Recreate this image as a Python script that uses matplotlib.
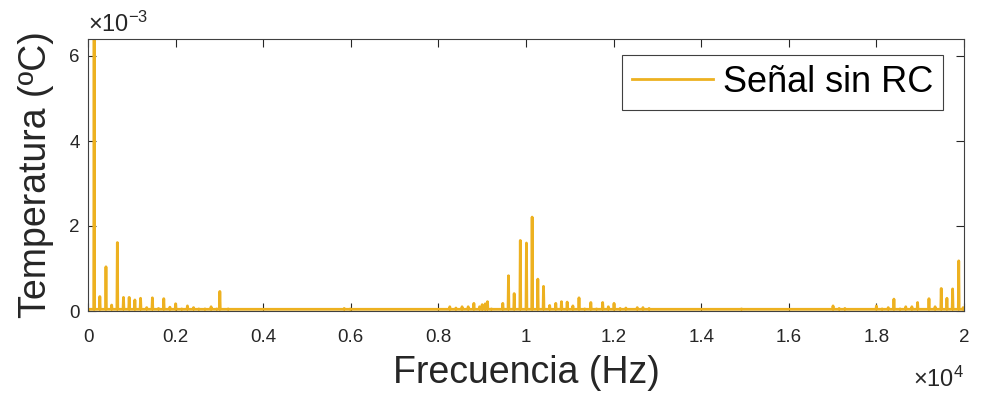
import numpy as np
import matplotlib
matplotlib.use('Agg')
import matplotlib.pyplot as plt

plt.rcParams['font.family'] = ['Liberation Sans', 'DejaVu Sans']
plt.rcParams['mathtext.fontset'] = 'custom'
plt.rcParams['mathtext.rm'] = 'Liberation Sans'
plt.rcParams['mathtext.it'] = 'Liberation Sans'

# spectrum peaks (Hz, degC)
peak_freqs = [138, 274, 411, 541, 671, 808, 936, 1073, 1203, 1340, 1470, 1607,
              1735, 1872, 2002, 2139, 2269, 2406, 2535, 2672, 2808, 2937, 3006, 3200,
              5850, 5990, 8260, 8398, 8540, 8678, 8807, 8936, 9004, 9072, 9118,
              9210, 9468, 9605, 9735, 9872, 10009, 10137, 10274, 10404, 10541,
              10678, 10808, 10937, 11074, 11212, 11345, 11478, 11612, 11750, 11879,
              12009, 12146, 12283, 12543, 12673, 12810, 14920, 16400, 17010, 17150,
              17280, 18000, 18130, 18267, 18404, 18540, 18670, 18807, 18937, 19070,
              19203, 19340, 19478, 19608, 19745, 19882, 19980]
peak_vals = [6.4e-3, 0.34e-3, 1.04e-3, 0.14e-3, 1.61e-3, 0.32e-3, 0.32e-3, 0.26e-3,
             0.30e-3, 0.08e-3, 0.31e-3, 0.06e-3, 0.29e-3, 0.09e-3, 0.17e-3, 0.05e-3,
             0.12e-3, 0.08e-3, 0.05e-3, 0.05e-3, 0.10e-3, 0.05e-3, 0.46e-3, 0.05e-3,
             0.06e-3, 0.05e-3, 0.10e-3, 0.07e-3, 0.10e-3, 0.10e-3, 0.18e-3, 0.10e-3,
             0.15e-3, 0.17e-3, 0.22e-3, 0.05e-3, 0.18e-3, 0.83e-3, 0.41e-3, 1.66e-3,
             1.60e-3, 2.21e-3, 0.75e-3, 0.58e-3, 0.13e-3, 0.18e-3, 0.22e-3, 0.21e-3,
             0.12e-3, 0.31e-3, 0.05e-3, 0.20e-3, 0.05e-3, 0.20e-3, 0.10e-3, 0.18e-3,
             0.06e-3, 0.07e-3, 0.08e-3, 0.08e-3, 0.06e-3, 0.05e-3, 0.04e-3, 0.12e-3,
             0.06e-3, 0.06e-3, 0.12e-3, 0.05e-3, 0.08e-3, 0.28e-3, 0.05e-3, 0.10e-3,
             0.10e-3, 0.20e-3, 0.04e-3, 0.29e-3, 0.10e-3, 0.53e-3, 0.30e-3, 0.52e-3,
             1.18e-3, 0.08e-3]
floor_val = 0.04e-3

x_ticks = [0, 2000, 4000, 6000, 8000, 10000, 12000, 14000, 16000, 18000, 20000]
x_ticklabels = ['0', '0.2', '0.4', '0.6', '0.8', '1', '1.2', '1.4', '1.6', '1.8', '2']
y_ticks = [0, 2e-3, 4e-3, 6e-3]
y_ticklabels = ['0', '2', '4', '6']

freq = np.arange(0, 20001, 10)
amp = np.full(freq.shape, floor_val)
amp[0] = 0.0
for f, v in zip(peak_freqs, peak_vals):
    amp[np.argmin(np.abs(freq - f))] = v

fig = plt.figure(figsize=(9.83, 3.99), dpi=100)
ax = fig.add_axes([88 / 983, 88 / 399, 876 / 983, 272 / 399])

ax.plot(freq, amp, color='#EDB120', lw=2.0, label='Señal sin RC')

ax.set_xlim(0, 20000)
ax.set_ylim(0, 6.4e-3)
ax.set_xticks(x_ticks)
ax.set_xticklabels(x_ticklabels)
ax.set_yticks(y_ticks)
ax.set_yticklabels(y_ticklabels)
ax.tick_params(direction='in', top=True, right=True, length=5.5, width=0.8,
               colors='#262626', labelsize=13.5)
ax.tick_params(axis='x', pad=13)
ax.tick_params(axis='y', pad=6)
for s in ax.spines.values():
    s.set_color('#404040')
    s.set_linewidth(0.8)

ax.set_xlabel('Frecuencia (Hz)', fontsize=27, color='#262626')
ax.set_ylabel('Temperatura (ºC)', fontsize=27, color='#262626')
ax.xaxis.set_label_coords(0.5, -0.16)
ax.yaxis.set_label_coords(-0.039, 0.5)

ax.text(0.0, 1.008, r'$\times10^{-3}$', transform=ax.transAxes, ha='left',
        va='bottom', fontsize=17, color='#262626')
ax.text(1.0, -0.25, r'$\times10^{4}$', transform=ax.transAxes, ha='right',
        va='center', fontsize=17, color='#262626')

leg = ax.legend(loc='upper right', bbox_to_anchor=(943 / 983, 344 / 399),
                bbox_transform=fig.transFigure, borderaxespad=0, fontsize=26,
                fancybox=False, framealpha=1, handlelength=2.25,
                handletextpad=0.25, borderpad=0.28)
leg.get_frame().set_edgecolor('#404040')
leg.get_frame().set_linewidth(0.8)

fig.savefig('out.png', dpi=100)
